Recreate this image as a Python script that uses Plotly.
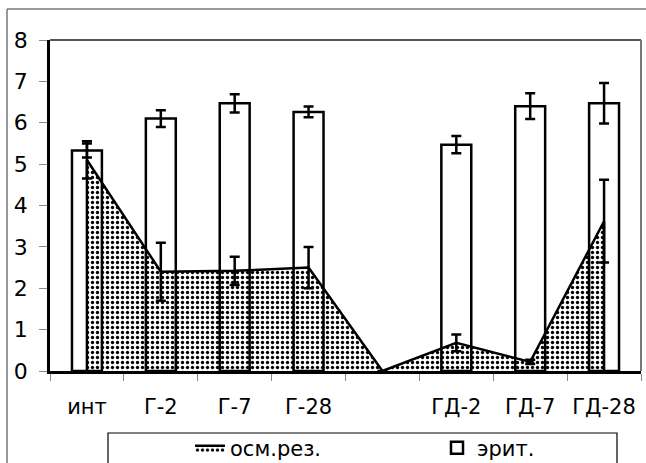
import plotly.graph_objects as go

# Groups along the x axis (the fifth slot is an empty spacer group)
categories = ["инт", "Г-2", "Г-7", "Г-28", " ", "ГД-2", "ГД-7", "ГД-28"]

# Erythrocytes (bars) with their errors
erit = [5.33, 6.10, 6.47, 6.26, None, 5.47, 6.40, 6.47]
erit_err = [0.17, 0.20, 0.22, 0.13, None, 0.21, 0.31, 0.49]

# Osmotic resistance (dotted area) with its errors
osm = [5.10, 2.40, 2.42, 2.50, 0.0, 0.68, 0.22, 3.62]
osm_err = [0.45, 0.70, 0.34, 0.50, None, 0.20, 0.05, 1.00]

y_ticks = [0, 1, 2, 3, 4, 5, 6, 7, 8]

FONT = "DejaVu Sans"
W, H = 646, 463
ML, MR, MT, MB = 50, 5, 40, 92
PW, PH = W - ML - MR, H - MT - MB


def px_x(px):
    return (px - ML) / PW


def px_y(px):
    return (H - MB - px) / PH


fig = go.Figure()

fig.add_trace(go.Bar(
    x=categories, y=erit, name="эрит.", width=0.405,
    marker=dict(color="white", line=dict(color="black", width=2.5)),
    error_y=dict(type="data", array=erit_err, color="black", thickness=2.5, width=5),
    legend="legend2",
))

# closed outline of the area: down to zero at both ends
area_x = [categories[0]] + categories + [categories[-1]]
area_y = [0] + osm + [0]
fig.add_trace(go.Scatter(
    x=area_x, y=area_y, name="осм.рез.", mode="lines", fill="toself",
    line=dict(color="black", width=2.5),
    fillcolor="rgba(0,0,0,0)",
    fillpattern=dict(shape=".", fgcolor="black", bgcolor="rgba(0,0,0,0)",
                     size=5, solidity=0.35, fillmode="replace"),
    legend="legend",
))

fig.add_trace(go.Scatter(
    x=categories, y=osm, mode="markers", showlegend=False, hoverinfo="skip",
    marker=dict(size=1, color="rgba(0,0,0,0)"),
    error_y=dict(type="data", array=osm_err, color="black", thickness=2.5, width=5),
))

shapes = [
    # top and right frame of the plot area
    dict(type="line", xref="paper", yref="paper", x0=0, x1=1, y0=1, y1=1,
         line=dict(color="#555555", width=2)),
    dict(type="line", xref="paper", yref="paper", x0=1, x1=1, y0=0, y1=1,
         line=dict(color="#777777", width=2)),
    # outer chart frame
    dict(type="line", xref="paper", yref="paper", x0=px_x(7), x1=px_x(W + 5),
         y0=px_y(9), y1=px_y(9), line=dict(color="#777777", width=1.5)),
    dict(type="line", xref="paper", yref="paper", x0=px_x(7), x1=px_x(7),
         y0=px_y(9), y1=px_y(H + 5), line=dict(color="#777777", width=1.5)),
    # legend frame
    dict(type="rect", xref="paper", yref="paper", x0=px_x(108), x1=px_x(617),
         y0=px_y(433), y1=px_y(H + 20), line=dict(color="black", width=1.2),
         fillcolor="white", layer="below"),
]

legend_common = dict(
    orientation="h", xanchor="left", yanchor="middle",
    bgcolor="rgba(0,0,0,0)", borderwidth=0,
    font=dict(family=FONT, size=21, color="black"),
)

fig.update_layout(
    width=W, height=H,
    margin=dict(l=ML, r=MR, t=MT, b=MB, pad=0, autoexpand=False),
    paper_bgcolor="white", plot_bgcolor="white",
    font=dict(family=FONT, size=21, color="black"),
    showlegend=True,
    legend=dict(x=px_x(190), y=px_y(448), **legend_common),
    legend2=dict(x=px_x(437), y=px_y(448), **legend_common),
    shapes=shapes,
    xaxis=dict(
        type="category", categoryorder="array", categoryarray=categories,
        range=[-0.5, len(categories) - 0.5], automargin=False,
        showline=True, linecolor="black", linewidth=2.5,
        ticks="outside", tickson="boundaries", ticklen=7, tickcolor="#888888", tickwidth=1,
        tickfont=dict(family=FONT, size=21), ticklabelstandoff=15, tickangle=0,
        showgrid=False, zeroline=False, fixedrange=True,
    ),
    yaxis=dict(
        range=[0, 8], tickvals=y_ticks, ticktext=[str(v) for v in y_ticks],
        automargin=False,
        showline=True, linecolor="black", linewidth=2.5,
        ticks="outside", ticklen=8, tickcolor="#888888", tickwidth=1,
        tickfont=dict(family=FONT, size=22), ticklabelstandoff=7,
        showgrid=False, zeroline=False, fixedrange=True,
    ),
    yaxis2=dict(
        range=[0, 8], tickvals=y_ticks, overlaying="y", side="left", anchor="x",
        automargin=False,
        ticks="inside", ticklen=8, tickcolor="#888888", tickwidth=1,
        showticklabels=False, showline=False, showgrid=False, zeroline=False,
    ),
)

fig.write_html("out.html")
